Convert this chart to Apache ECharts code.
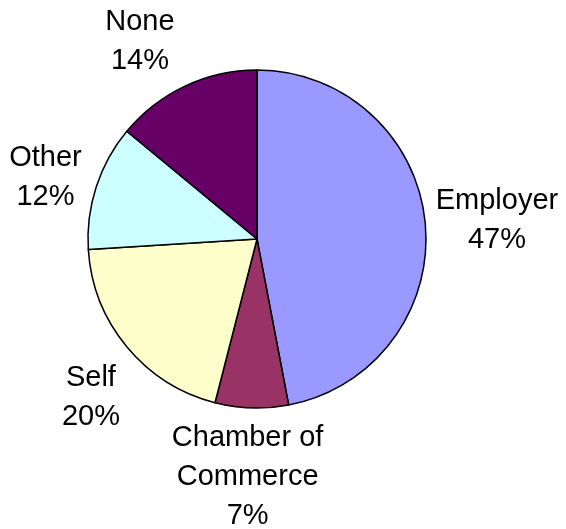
<!DOCTYPE html>
<html>
<head>
<meta charset="utf-8">
<script src="https://cdn.jsdelivr.net/npm/echarts@6/dist/echarts.min.js"></script>
<style>
  html, body { margin: 0; padding: 0; background: #fff; }
  #chart { width: 566px; height: 529px; }
</style>
</head>
<body>
<div id="chart"></div>
<script>
// Source of help, share of respondents (%)
const categories = ['Employer', 'Chamber of\nCommerce', 'Self', 'Other', 'None'];
const shares = [47, 7, 20, 12, 14];
const colors = ['#9999FF', '#993366', '#FFFFCC', '#CCFFFF', '#660066'];
// small per-label nudges [dx, dy] so the labels clear the pie nicely
const labelNudge = [[6, 4], [-2, 3], [15, 9], [12, 11], [-17, 15]];

const center = [257, 239];
const chart = echarts.init(document.getElementById('chart'), null, { renderer: 'canvas' });

chart.setOption({
  animation: false,
  series: [
    {
      // the pie itself
      type: 'pie',
      center: center,
      radius: 169,
      startAngle: 90,
      clockwise: true,
      silent: true,
      data: categories.map((name, i) => ({
        name: name,
        value: shares[i],
        itemStyle: { color: colors[i] }
      })),
      itemStyle: { borderColor: '#000', borderWidth: 1.5 },
      label: { show: false },
      labelLine: { show: false }
    },
    {
      // invisible ring that carries the category labels around the pie
      type: 'pie',
      center: center,
      radius: [220, 244],
      startAngle: 90,
      clockwise: true,
      silent: true,
      data: categories.map((name, i) => ({
        name: name,
        value: shares[i],
        label: { offset: labelNudge[i] }
      })),
      itemStyle: { color: 'rgba(0,0,0,0)', borderWidth: 0 },
      label: {
        show: true,
        position: 'inside',
        formatter: p => p.name + '\n' + p.value + '%',
        fontFamily: 'Liberation Sans, Arial, sans-serif',
        fontSize: 29,
        lineHeight: 39,
        color: '#000',
        align: 'center'
      },
      labelLine: { show: false }
    }
  ]
});
</script>
</body>
</html>
